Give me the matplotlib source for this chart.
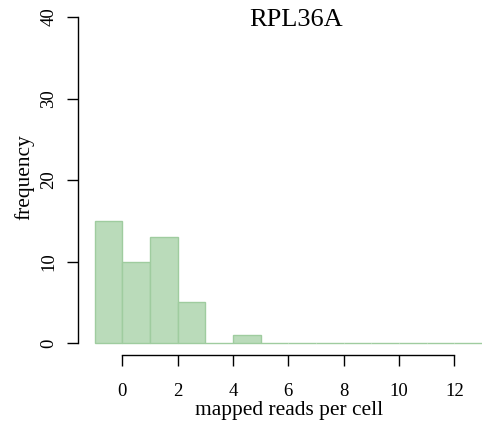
import matplotlib
matplotlib.use("Agg")
import matplotlib.pyplot as plt
import numpy as np

# Histogram of mapped reads per cell for RPL36A
bin_edges = [-1, 0, 1, 2, 3, 4, 5, 6, 7, 8, 9, 10, 11, 12, 13]
counts = [15, 10, 13, 5, 0, 1, 0, 0, 0, 0, 0, 0, 0, 0]
x_ticks = [0, 2, 4, 6, 8, 10, 12]
y_ticks = [0, 10, 20, 30, 40]
title = "RPL36A"
x_label = "mapped reads per cell"
y_label = "frequency"

plt.rcParams["font.family"] = ["Liberation Serif", "DejaVu Serif"]

W, H = 482, 430
fig = plt.figure(figsize=(W / 100, H / 100), dpi=100)
ax_left, ax_right, ax_top, ax_bottom = 78, 482, 17, 355
ax = fig.add_axes([ax_left / W, 1 - ax_bottom / H,
                   (ax_right - ax_left) / W, (ax_bottom - ax_top) / H])

lefts = np.array(bin_edges[:-1])
widths = np.diff(bin_edges)
ax.bar(lefts, counts, width=widths, align="edge",
       facecolor="#badbba", edgecolor="#9fcc9f", linewidth=1.0)

ax.set_xlim(-1.6, 13.0)
ax.set_ylim(-1.47, 40)

for s in ("top", "right"):
    ax.spines[s].set_visible(False)
ax.spines["left"].set_bounds(0, 40)
ax.spines["bottom"].set_bounds(0, 12)
for s in ("left", "bottom"):
    ax.spines[s].set_linewidth(1.0)
    ax.spines[s].set_color("black")

ax.set_xticks(x_ticks)
ax.set_xticklabels([str(v) for v in x_ticks])
ax.set_yticks(y_ticks)
ax.set_yticklabels([str(v) for v in y_ticks], rotation=90, va="center")
ax.tick_params(axis="both", direction="out", length=8, width=1.0,
               labelsize=13.5, colors="black")
ax.tick_params(axis="x", pad=12.5)
ax.tick_params(axis="y", pad=7)

fig.text(296 / W, 1 - 20 / H, title, ha="center", va="center", fontsize=19)
fig.text(289 / W, 1 - 411 / H, x_label, ha="center", va="center", fontsize=15.4)
fig.text(24 / W, 1 - 177 / H, y_label, ha="center", va="center",
         rotation=90, fontsize=15.4)

fig.savefig("out.png", dpi=100)
